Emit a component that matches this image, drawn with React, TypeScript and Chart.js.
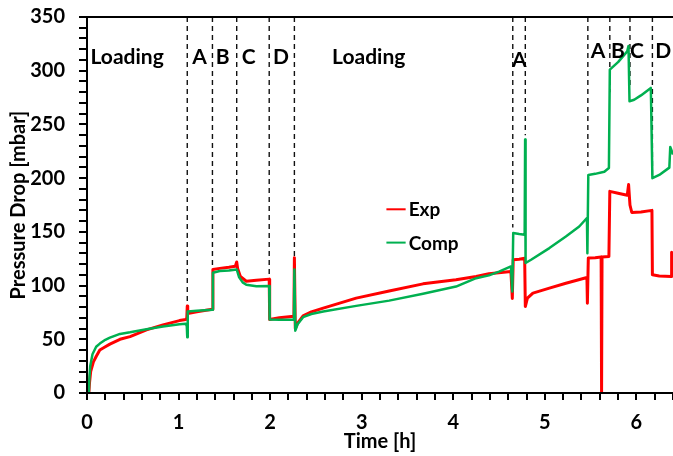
import React, { useEffect, useRef } from "react";
import { Chart, registerables } from "chart.js";

Chart.register(...registerables);

// ---- Data (time in hours, pressure drop in mbar) ----
const expTime = [
  0.02, 0.028, 0.04, 0.07, 0.1, 0.14, 0.2, 0.25, 0.36, 0.47, 0.65, 0.83, 1.01, 1.08, 1.09,
  1.095, 1.1, 1.2, 1.3, 1.37, 1.375, 1.45, 1.55, 1.62, 1.635, 1.645, 1.675, 1.74, 1.85, 1.99,
  1.995, 2.1, 2.26, 2.265, 2.275, 2.3, 2.36, 2.45, 2.58, 2.94, 3.3, 3.67, 4.03, 4.25, 4.39,
  4.63, 4.645, 4.655, 4.72, 4.78, 4.787, 4.81, 4.87, 5.05, 5.23, 5.46, 5.465, 5.475, 5.55,
  5.615, 5.62, 5.625, 5.7, 5.71, 5.8, 5.9, 5.915, 5.93, 5.95, 6.05, 6.17, 6.175, 6.25, 6.38,
  6.385, 6.4,
];
const expValue = [
  0, 10, 20, 29, 34, 40, 43, 45.5, 50, 52.5, 58.7, 63.4, 67.4, 68.5, 70,
  81, 74, 75.5, 77, 78, 115, 116, 117, 118, 122, 116, 108.5, 104, 105, 106,
  68.5, 70, 71.5, 126, 60, 65, 71.8, 75.5, 79, 88.3, 95, 101.6, 105.4, 108.5, 111,
  113, 88, 124, 124.5, 125.5, 80.5, 88.3, 93, 97.6, 102.2, 107.5, 83.6, 125.6, 126,
  126.5, 0, 126.5, 127, 187.7, 186, 184, 194, 175, 168, 168.5, 170, 110, 109, 108.5,
  131, 128,
];
const compTime = [
  0.02, 0.025, 0.035, 0.06, 0.1, 0.14, 0.2, 0.25, 0.36, 0.47, 0.65, 0.83, 1.01, 1.08, 1.09,
  1.095, 1.1, 1.2, 1.37, 1.375, 1.45, 1.55, 1.635, 1.66, 1.7, 1.74, 1.85, 1.99,
  1.995, 2.1, 2.26, 2.265, 2.275, 2.3, 2.36, 2.45, 2.58, 2.94, 3.3, 3.67, 4.03, 4.25, 4.39,
  4.5, 4.63, 4.645, 4.655, 4.72, 4.78, 4.785, 4.79, 4.85, 5.05, 5.23, 5.376, 5.46, 5.465,
  5.475, 5.55, 5.65, 5.7, 5.71, 5.8, 5.9, 5.914, 5.925, 5.976, 6.05, 6.158, 6.175, 6.25,
  6.36, 6.37, 6.4,
];
const compValue = [
  0, 12, 25, 36, 43, 46, 49.5, 51.5, 55, 56.5, 59.4, 61.8, 64, 64.5, 62,
  52, 75.8, 76.5, 77.5, 112, 113.5, 114, 115, 108, 103, 100.7, 99.3, 99.5,
  68.5, 68.3, 68.5, 115, 58, 64, 70.6, 73.5, 75.8, 81.1, 86, 92.3, 99.1, 106.9, 109.5,
  113, 117.8, 94.5, 149, 148, 147.3, 236, 121, 124, 134.9, 145.7, 155, 162.9, 130,
  203, 204, 206, 209.5, 301, 308, 318, 323, 271.6, 273, 277, 284, 200, 203,
  209.8, 229, 222,
];

// Stage boundaries (dashed lines from top of axis down to curve)
const boundaryTime = [1.095, 1.37, 1.635, 1.99, 2.265, 4.65, 4.787, 5.47, 5.71, 5.93, 6.175];
const boundaryLow = [85, 117, 124, 108, 124, 154, 240, 210, 280, 284, 200];

// Stage labels
const stageLabels = ["Loading", "A", "B", "C", "D", "Loading", "A", "A", "B", "C", "D"];
const stageTime = [0.438, 1.229, 1.481, 1.765, 2.118, 3.077, 4.722, 5.581, 5.798, 6.007, 6.292];
const stageValue = [313, 313, 313, 313, 313, 313, 310, 318, 318, 318, 318];

const seriesNames = ["Exp", "Comp"];
const seriesColors = ["#ff0000", "#00b050"];

const xTickMin = 0;
const xTickMax = 6.4;
const xTickStep = 0.2;
const yTickMin = 0;
const yTickMax = 350;
const yTickStep = 10;

// legend anchor (data coords)
const legendStart = 3.27;
const legendEnd = 3.48;
const legendValues = [171, 140];

const FONT = "Lato, 'Liberation Sans', Arial, sans-serif";

const toPoints = (xs: number[], ys: number[]) => xs.map((x, i) => ({ x, y: ys[i] }));

const overlayPlugin = {
  id: "overlay",
  afterDraw(chart: any) {
    const { ctx, chartArea, scales } = chart;
    const xs = scales.x;
    const ys = scales.y;
    ctx.save();
    ctx.fillStyle = "#000";
    // axis lines and top frame (crisp)
    const L = Math.round(chartArea.left);
    const B = Math.round(chartArea.bottom);
    const T = Math.round(chartArea.top);
    ctx.fillRect(L - 1, T - 1, Math.round(chartArea.right) - L + 1, 2);
    ctx.fillRect(L - 1, T - 1, 2, B - T + 2);
    ctx.fillRect(L - 1, B - 1, Math.round(chartArea.right) - L + 1, 2);
    // tick marks (outside)
    const nY = Math.round((yTickMax - yTickMin) / yTickStep);
    for (let i = 0; i <= nY; i++) {
      const py = Math.round(ys.getPixelForValue(yTickMin + i * yTickStep));
      ctx.fillRect(L - 8, py - 1, 8, 2);
    }
    const nX = Math.round((xTickMax - xTickMin) / xTickStep);
    for (let i = 0; i <= nX; i++) {
      const px = Math.round(xs.getPixelForValue(xTickMin + i * xTickStep));
      ctx.fillRect(px - 1, B, 2, 7);
    }
    // stage labels
    ctx.font = `bold 21px ${FONT}`;
    ctx.textAlign = "center";
    ctx.textBaseline = "middle";
    stageLabels.forEach((t, i) => {
      ctx.fillText(t, xs.getPixelForValue(stageTime[i]), ys.getPixelForValue(stageValue[i]));
    });
    // legend
    ctx.font = `bold 19px ${FONT}`;
    ctx.textAlign = "left";
    seriesNames.forEach((n, i) => {
      const y = ys.getPixelForValue(legendValues[i]);
      const x0 = xs.getPixelForValue(legendStart);
      const x1 = xs.getPixelForValue(legendEnd);
      ctx.fillStyle = seriesColors[i];
      ctx.fillRect(x0, y - 1, x1 - x0, 2);
      ctx.fillStyle = "#000";
      ctx.fillText(n, x1 + 3, y + 1);
    });
    ctx.restore();
  },
};

export default function App() {
  const ref = useRef<HTMLCanvasElement | null>(null);
  useEffect(() => {
    if (!ref.current) return;
    const dashed = boundaryTime.map((t, i) => ({
      type: "line" as const,
      data: [
        { x: t, y: yTickMax },
        { x: t, y: boundaryLow[i] },
      ],
      borderColor: "#111",
      borderWidth: 1.4,
      borderDash: [5, 4],
      pointRadius: 0,
      fill: false,
    }));
    const chart = new Chart(ref.current, {
      type: "line",
      data: {
        datasets: [
          {
            label: seriesNames[1],
            data: toPoints(compTime, compValue),
            borderColor: seriesColors[1],
            borderWidth: 2.5,
            borderJoinStyle: "round",
            pointRadius: 0,
            tension: 0,
            fill: false,
          },
          {
            label: seriesNames[0],
            data: toPoints(expTime, expValue),
            borderColor: seriesColors[0],
            borderWidth: 3,
            borderJoinStyle: "round",
            pointRadius: 0,
            tension: 0,
            fill: false,
          },
          ...dashed,
        ] as any,
      },
      options: {
        responsive: false,
        animation: false,
        events: [],
        layout: { padding: { top: 17, left: 0, right: 0, bottom: 0 } },
        plugins: { legend: { display: false }, tooltip: { enabled: false }, title: { display: false } },
        scales: {
          x: {
            type: "linear",
            min: xTickMin,
            max: xTickMax,
            afterFit: (s: any) => {
              s.height = 63;
              s.paddingLeft = 0;
              s.paddingRight = 0;
              s.paddingTop = 0;
              s.paddingBottom = 0;
            },
            border: { display: false },
            grid: { display: false, drawTicks: true, tickLength: 7 },
            ticks: {
              stepSize: xTickStep,
              autoSkip: false,
              maxRotation: 0,
              padding: 11,
              color: "#000",
              font: { family: FONT, size: 20, weight: "bold" },
              callback: (v: any) => {
                const r = Math.round(v);
                return Math.abs(v - r) < 1e-6 ? String(r) : "";
              },
            },
            title: {
              display: true,
              text: "Time [h]",
              color: "#000",
              font: { family: FONT, size: 20, weight: "bold" },
              padding: { top: 0, bottom: 2 },
            },
          },
          y: {
            type: "linear",
            min: yTickMin,
            max: yTickMax,
            afterFit: (s: any) => {
              s.width = 87;
              s.paddingLeft = 0;
              s.paddingRight = 0;
              s.paddingTop = 0;
              s.paddingBottom = 0;
            },
            border: { display: false },
            grid: { display: false, drawTicks: true, tickLength: 7 },
            ticks: {
              stepSize: yTickStep,
              autoSkip: false,
              padding: 15,
              color: "#000",
              font: { family: FONT, size: 20, weight: "bold" },
              callback: (v: any) => (Math.round(v) % 50 === 0 ? String(Math.round(v)) : ""),
            },
            title: {
              display: true,
              text: "Pressure Drop [mbar]",
              color: "#000",
              font: { family: FONT, size: 20, weight: "bold" },
              padding: { top: 7, bottom: 0 },
            },
          },
        },
      } as any,
      plugins: [overlayPlugin],
    });
    return () => chart.destroy();
  }, []);
  return (
    <div style={{ position: "absolute", left: 0, top: 0, width: 673, height: 456, background: "#fff" }}>
      <canvas ref={ref} width={673} height={456} style={{ width: 673, height: 456, display: "block" }} />
    </div>
  );
}
